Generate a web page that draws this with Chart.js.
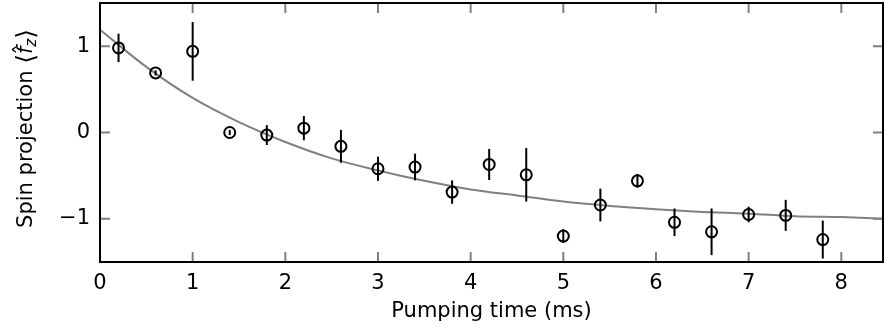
<!DOCTYPE html>
<html>
<head>
<meta charset="utf-8">
<script src="https://cdn.jsdelivr.net/npm/chart.js@4.4.0/dist/chart.umd.min.js"></script>
<style>
    html, body { margin: 0; padding: 0; background: #fff; }
    #wrap { width: 884px; height: 328px; }
</style>
</head>
<body>
<div id="wrap"><canvas id="spinChart"></canvas></div>
<script>
(function () {
    'use strict';

    // measured points (ms, <f_z>) and their error bars
    const times = [0.2, 0.6, 1.0, 1.4, 1.8, 2.2, 2.6, 3.0, 3.4, 3.8, 4.2, 4.6, 5.0, 5.4, 5.8, 6.2, 6.6, 7.0, 7.4, 7.8];
    const spin = [0.98, 0.69, 0.94, 0.00, -0.03, 0.05, -0.16, -0.42, -0.40, -0.69, -0.37, -0.49, -1.20, -0.84, -0.56, -1.04, -1.15, -0.95, -0.96, -1.24];
    const spinErr = [0.165, 0.03, 0.34, 0.03, 0.115, 0.14, 0.19, 0.14, 0.155, 0.135, 0.18, 0.31, 0.08, 0.19, 0.08, 0.16, 0.27, 0.09, 0.18, 0.22];

    // fitted curve
    const fitX = [0, 0.5, 1, 1.5, 2, 2.5, 3, 3.5, 4, 4.5, 5, 5.5, 6, 6.5, 7, 7.5, 8, 8.5];
    const fitY = [1.19, 0.76, 0.40, 0.12, -0.11, -0.30, -0.44, -0.56, -0.66, -0.73, -0.80, -0.85, -0.89, -0.92, -0.94, -0.97, -0.98, -1.00];

    const xTicks = [0, 1, 2, 3, 4, 5, 6, 7, 8];
    const yTicks = [-1, 0, 1];

    const FONT = 'DejaVu Sans';
    const FSIZE = 21;
    const GREY = '#808080';

    function fmt(v) {
        return v < 0 ? '\u2212' + Math.abs(v) : String(v);
    }

    const errorBars = {
        id: 'errorBars',
        afterDatasetsDraw: function (chart) {
            const ctx = chart.ctx;
            const xs = chart.scales.x, ys = chart.scales.y;
            ctx.save();
            ctx.strokeStyle = '#000';
            ctx.lineWidth = 2;
            times.forEach(function (t, i) {
                const px = xs.getPixelForValue(t);
                ctx.beginPath();
                ctx.moveTo(px, ys.getPixelForValue(spin[i] - spinErr[i]));
                ctx.lineTo(px, ys.getPixelForValue(spin[i] + spinErr[i]));
                ctx.stroke();
            });
            ctx.restore();
        }
    };

    const frame = {
        id: 'frame',
        afterDraw: function (chart) {
            const ctx = chart.ctx;
            const a = chart.chartArea;
            const xs = chart.scales.x, ys = chart.scales.y;
            const len = 10;
            ctx.save();
            ctx.strokeStyle = GREY;
            ctx.lineWidth = 2;
            ctx.beginPath();
            xTicks.forEach(function (v) {
                const px = xs.getPixelForValue(v);
                ctx.moveTo(px, a.top); ctx.lineTo(px, a.top + len);
                ctx.moveTo(px, a.bottom); ctx.lineTo(px, a.bottom - len);
            });
            yTicks.forEach(function (v) {
                const py = ys.getPixelForValue(v);
                ctx.moveTo(a.left, py); ctx.lineTo(a.left + len, py);
                ctx.moveTo(a.right, py); ctx.lineTo(a.right - len, py);
            });
            ctx.stroke();
            ctx.strokeStyle = '#000';
            ctx.strokeRect(a.left, a.top, a.right - a.left, a.bottom - a.top);

            // y title: Spin projection <f^_z>
            const parts = [
                { t: 'Spin projection ', f: FSIZE + 'px "' + FONT + '"', dy: 0 },
                { t: '\u27E8', f: (FSIZE + 4) + 'px "' + FONT + '"', dy: 2 },
                { t: 'f', f: 'italic ' + FSIZE + 'px "' + FONT + '"', dy: 0, hat: true },
                { t: 'z', f: 'italic ' + Math.round(FSIZE * 0.7) + 'px "' + FONT + '"', dy: 4 },
                { t: '\u27E9', f: (FSIZE + 4) + 'px "' + FONT + '"', dy: 2 }
            ];
            let w = 0;
            parts.forEach(function (p) {
                ctx.font = p.f;
                p.w = ctx.measureText(p.t).width;
                w += p.w;
            });
            ctx.translate(32, 128.5);
            ctx.rotate(-Math.PI / 2);
            ctx.fillStyle = '#000';
            ctx.textBaseline = 'alphabetic';
            ctx.textAlign = 'left';
            let x = -w / 2;
            parts.forEach(function (p) {
                ctx.font = p.f;
                ctx.fillText(p.t, x, p.dy);
                if (p.hat) {
                    ctx.font = FSIZE + 'px "' + FONT + '"';
                    ctx.textAlign = 'center';
                    ctx.fillText('\u02C6', x + p.w / 2 + 1, -3);
                    ctx.textAlign = 'left';
                }
                x += p.w;
            });
            ctx.restore();
        }
    };

    new Chart(document.getElementById('spinChart'), {
        type: 'scatter',
        data: {
            datasets: [{
                data: times.map(function (t, i) { return { x: t, y: spin[i] }; }),
                showLine: false,
                pointRadius: 5.5,
                pointBorderWidth: 2,
                pointBorderColor: '#000',
                pointBackgroundColor: 'rgba(0,0,0,0)',
                pointHoverRadius: 5.5
            }, {
                data: fitX.map(function (t, i) { return { x: t, y: fitY[i] }; }),
                showLine: true,
                borderColor: GREY,
                borderWidth: 2,
                pointRadius: 0,
                cubicInterpolationMode: 'monotone',
                fill: false
            }]
        },
        options: {
            responsive: true,
            maintainAspectRatio: false,
            animation: false,
            events: [],
            layout: { autoPadding: false, padding: { left: 0, top: 3, right: 1, bottom: 0 } },
            plugins: { legend: { display: false }, tooltip: { enabled: false } },
            scales: {
                x: {
                    type: 'linear',
                    min: 0,
                    max: 8.45,
                    grid: { display: false, drawTicks: false },
                    border: { display: false },
                    afterBuildTicks: function (s) { s.ticks = xTicks.map(function (v) { return { value: v }; }); },
                    afterFit: function (s) {
                        s.height = 66;
                        s.paddingLeft = 0; s.paddingRight = 0;
                    },
                    ticks: {
                        padding: 9,
                        color: '#000',
                        font: { family: FONT, size: FSIZE },
                        callback: fmt
                    },
                    title: {
                        display: true,
                        text: 'Pumping time (ms)',
                        color: '#000',
                        font: { family: FONT, size: FSIZE },
                        padding: { top: 0, bottom: 4 }
                    }
                },
                y: {
                    min: -1.5,
                    max: 1.5,
                    grid: { display: false, drawTicks: false },
                    border: { display: false },
                    afterBuildTicks: function (s) { s.ticks = yTicks.map(function (v) { return { value: v }; }); },
                    afterFit: function (s) {
                        s.width = 100;
                        s.paddingTop = 0; s.paddingBottom = 0;
                    },
                    ticks: {
                        padding: 10,
                        color: '#000',
                        font: { family: FONT, size: FSIZE },
                        callback: fmt
                    }
                }
            }
        },
        plugins: [errorBars, frame]
    });
})();
</script>
</body>
</html>
